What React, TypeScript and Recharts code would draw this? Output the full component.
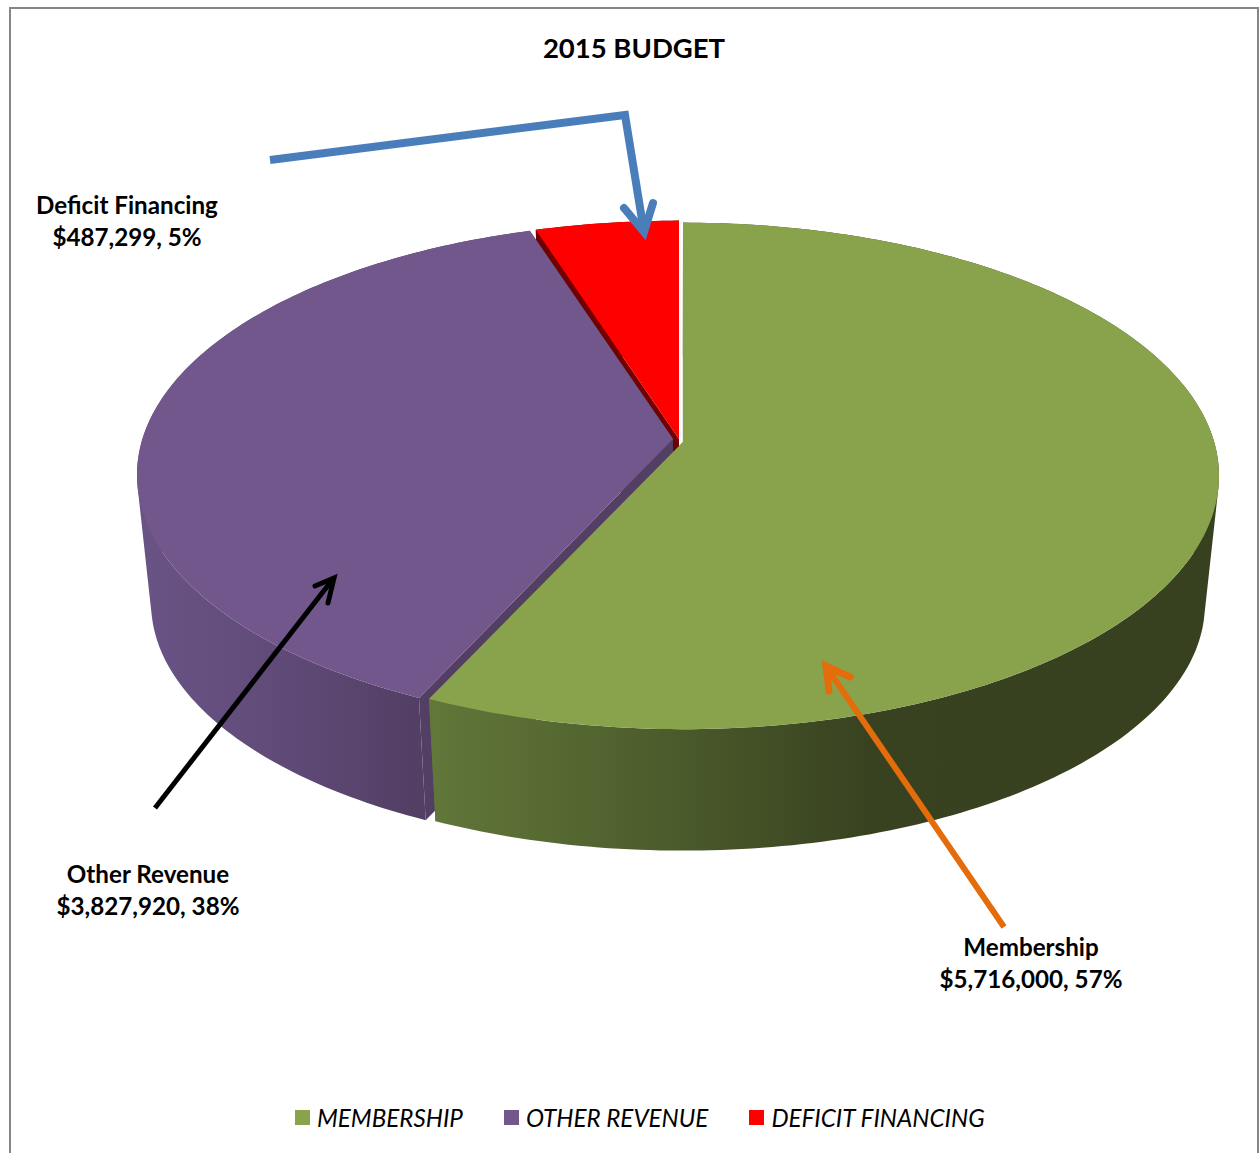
import { Legend, Pie, PieChart } from "recharts";

const categories = ["Membership", "Other Revenue", "Deficit Financing"];
const budget = [5716000, 3827920, 487299];

const colors = ["#89a34d", "#72578c", "#ff0000"];
const faceColors = ["#5f7335", "#533f64", "#730000"];
const FONT = "Lato, Carlito, sans-serif";

// where Excel left the data labels (center x, first baseline)
const labelSpots: Record<string, [number, number]> = {
  Membership: [1031, 956],
  "Other Revenue": [148, 883],
  "Deficit Financing": [127, 214],
};

// the exploded slices are not quite on the same center: rim dx, rim dy, apex dy
const offsets: Record<string, [number, number, number]> = {
  Membership: [5, 0, -3],
  "Other Revenue": [-5, -1, -6],
  "Deficit Financing": [1, -2, -6],
};

// wall gradient per slice: [x, colour]
const wallStops: Record<string, [number, string][]> = {
  Membership: [[428, "#62773a"], [600, "#52642f"], [870, "#384220"], [1218, "#37411f"]],
  "Other Revenue": [[137, "#6a5486"], [300, "#5e4976"], [415, "#533f64"]],
  "Deficit Financing": [[530, "#730000"], [680, "#730000"]],
};

const total = budget.reduce((a, b) => a + b, 0);

// painted back to front, counter clockwise from 12 o'clock
const slices = categories
  .map((name, i) => ({ name, value: budget[i], fill: colors[i], face: faceColors[i] }))
  .reverse();

// perspective of the 3D pie
const TILT = 0.469;
const PERSP = -0.122;
const VANISH_X = 678;
const VANISH_Y = 5400;
const DEPTH = 0.974;

const PieSlice = (props: any) => {
  const { cx, cy, outerRadius, startAngle, endAngle, fill, name, payload } = props;
  const label = name ?? payload?.name;
  const [dx, dy, apexDy] = offsets[label] ?? [0, 0, 0];
  const face = payload?.face ?? props.face;

  const drop = ([x, y]: number[]) => [
    VANISH_X + (x - VANISH_X) * DEPTH,
    VANISH_Y + (y - VANISH_Y) * DEPTH,
  ];
  const rim = (deg: number) => {
    const a = (deg * Math.PI) / 180;
    const u = Math.cos(a);
    const v = -Math.sin(a);
    const w = 1 + PERSP * v;
    return [cx + dx + (outerRadius * u) / w, cy + dy + (outerRadius * TILT * v) / w];
  };
  const apex = [cx + dx, cy + apexDy];
  const quad = (p: number[], q: number[]) => {
    const r = drop(q);
    const s = drop(p);
    // keep every quad wound the same way or overlaps cancel out at the silhouette
    const area =
      (q[0] - p[0]) * (q[1] + p[1]) +
      (r[0] - q[0]) * (r[1] + q[1]) +
      (s[0] - r[0]) * (s[1] + r[1]) +
      (p[0] - s[0]) * (p[1] + s[1]);
    const c = area < 0 ? [s, r, q, p] : [p, q, r, s];
    return `M${c[0][0]},${c[0][1]}L${c[1][0]},${c[1][1]}L${c[2][0]},${c[2][1]}L${c[3][0]},${c[3][1]}Z`;
  };

  const steps = Math.ceil(Math.abs(endAngle - startAngle));
  const pts: number[][] = [];
  for (let i = 0; i <= steps; i++) {
    pts.push(rim(startAngle + ((endAngle - startAngle) * i) / steps));
  }
  let wall = "";
  for (let i = 0; i < steps; i++) wall += quad(pts[i], pts[i + 1]);
  const inner = quad(apex, pts[0]) + quad(apex, pts[steps]);
  const top = `M${apex[0]},${apex[1]}` + pts.map((p) => `L${p[0]},${p[1]}`).join("") + "Z";

  const stops = wallStops[label] ?? [];
  const x0 = stops[0][0];
  const x1 = stops[stops.length - 1][0];
  const gradId = "wall-" + label.replace(/\s/g, "");

  return (
    <g>
      <defs>
        <linearGradient id={gradId} gradientUnits="userSpaceOnUse" x1={x0} y1={0} x2={x1} y2={0}>
          {stops.map(([x, c]) => (
            <stop key={x} offset={(x - x0) / (x1 - x0)} stopColor={c} />
          ))}
        </linearGradient>
      </defs>
      <path d={inner} fill={face} />
      <path d={wall} fill={`url(#${gradId})`} />
      <path d={top} fill={fill} />
    </g>
  );
};

const renderLabel = (props: any) => {
  const name = props.name ?? props.payload?.name;
  const [x, y] = labelSpots[name];
  const value = props.value;
  const pct = Math.round((value / total) * 100);
  return (
    <text x={x} y={y} textAnchor="middle" fontFamily={FONT} fontSize={24.2} fontWeight={700} fill="#000">
      <tspan x={x}>{name}</tspan>
      <tspan x={x} dy={32}>
        {"$" + value.toLocaleString("en-US") + ", " + pct + "%"}
      </tspan>
    </text>
  );
};

const renderLegend = (props: any) => {
  const order = (it: any) => categories.indexOf(it.value);
  const items = [...(props.payload ?? [])].sort((a, b) => order(a) - order(b));
  return (
    <div style={{ display: "flex", gap: 41, fontFamily: FONT, fontStyle: "italic", fontSize: 24.2, color: "#000", whiteSpace: "nowrap" }}>
      {items.map((it: any) => (
        <div key={it.value} style={{ display: "flex", alignItems: "center", gap: 7 }}>
          <span style={{ width: 15, height: 15, background: it.color, display: "inline-block" }} />
          <span>{String(it.value).toUpperCase()}</span>
        </div>
      ))}
    </div>
  );
};

const App = () => {
  return (
    <div style={{ position: "absolute", left: 0, top: 0, width: 1259, height: 1153, overflow: "hidden", background: "#fff" }}>
      <div
        style={{
          position: "absolute",
          left: 9,
          top: 7,
          width: 1246,
          height: 1200,
          border: "2px solid #868686",
        }}
      />
      <div style={{ position: "absolute", left: 0, top: 0 }}>
        <PieChart width={1259} height={1153} margin={{ top: 0, right: 0, bottom: 0, left: 0 }}>
          <text x={634} y={58} textAnchor="middle" fontFamily={FONT} fontSize={27.5} fontWeight={700} fill="#000">
            2015 BUDGET
          </text>
          <Pie
            data={slices}
            dataKey="value"
            nameKey="name"
            cx={678}
            cy={445}
            outerRadius={532}
            startAngle={90}
            endAngle={450}
            stroke="none"
            shape={PieSlice}
            label={renderLabel}
            labelLine={false}
            isAnimationActive={false}
          />
          <Legend content={renderLegend} wrapperStyle={{ left: 295, top: 1103, width: "auto", bottom: "auto" }} />
        </PieChart>
      </div>
      {/* hand drawn arrows sit above the chart */}
      <svg width={1259} height={1153} style={{ position: "absolute", left: 0, top: 0, pointerEvents: "none" }}>
        <g fill="none" strokeLinecap="round" strokeLinejoin="miter">
          <path d="M270,160L625,115L644,232" stroke="#4a7ebb" strokeWidth={8} strokeLinecap="butt" />
          <path d="M624,208L644,232L653,203" stroke="#4a7ebb" strokeWidth={8} />
          <path d="M1004,927L827,668" stroke="#e46c0a" strokeWidth={6} strokeLinecap="butt" />
          <path d="M829,691L826,666L850,677" stroke="#e46c0a" strokeWidth={7} />
          <path d="M155,808L333,579" stroke="#000" strokeWidth={5} strokeLinecap="butt" />
          <path d="M315,586L334,578L328,603" stroke="#000" strokeWidth={5} />
        </g>
      </svg>
    </div>
  );
};

export default App;
